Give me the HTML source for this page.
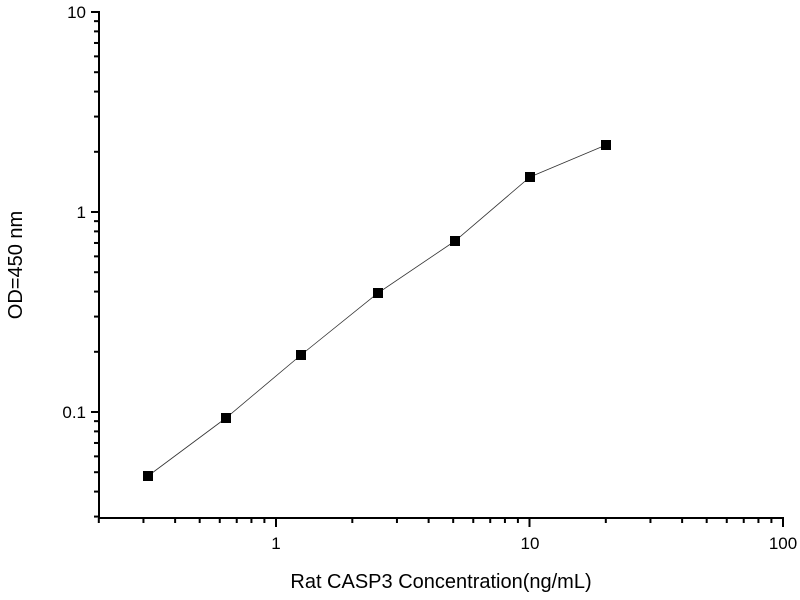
<!DOCTYPE html>
<html><head><meta charset="utf-8"><style>
html,body{margin:0;padding:0;background:#fff;}
svg{display:block;font-family:"Liberation Sans",Arial,sans-serif;}
</style></head><body>
<svg id="s" width="800" height="600" xmlns="http://www.w3.org/2000/svg">
<rect width="800" height="600" fill="#fff"/>
<g id="ax" stroke="#000" stroke-width="2" fill="none"></g>
<line x1="99" y1="11" x2="99" y2="519" stroke="#000" stroke-width="2"/>
<line x1="98" y1="518" x2="784" y2="518" stroke="#000" stroke-width="2"/>
<polyline points="148,476 226,418 301,355 378,293 455,241 530,177 606,145" fill="none" stroke="#333" stroke-width="0.8"/>
<g fill="#000">
<rect x="143" y="471" width="10" height="10"/>
<rect x="221" y="413" width="10" height="10"/>
<rect x="296" y="350" width="10" height="10"/>
<rect x="373" y="288" width="10" height="10"/>
<rect x="450" y="236" width="10" height="10"/>
<rect x="525" y="172" width="10" height="10"/>
<rect x="601" y="140" width="10" height="10"/>
</g>
<g font-size="17" fill="#000">
<text x="86" y="18" text-anchor="end">10</text>
<text x="86" y="218" text-anchor="end">1</text>
<text x="86" y="418" text-anchor="end">0.1</text>
<text x="276" y="549" text-anchor="middle">1</text>
<text x="530" y="549" text-anchor="middle">10</text>
<text x="783" y="549" text-anchor="middle">100</text>
</g>
<text x="441" y="588" font-size="20" text-anchor="middle">Rat CASP3 Concentration(ng/mL)</text>
<text transform="translate(22,265) rotate(-90)" font-size="20" text-anchor="middle">OD=450 nm</text>
</svg>
<script>
var g=document.getElementById('ax'),ns='http://www.w3.org/2000/svg';
function L(x1,y1,x2,y2){var l=document.createElementNS(ns,'line');l.setAttribute('x1',x1);l.setAttribute('y1',y1);l.setAttribute('x2',x2);l.setAttribute('y2',y2);g.appendChild(l);}
// y axis: 10 at 12, decade 200
for(var d=-2;d<=1;d++){for(var m=1;m<=9;m++){var v=Math.log10(m)+d;var y=12+(1-v)*200;if(y<11||y>518)continue;if(m==1)L(91,y,99,y);else L(94,y,99,y);}}
// x axis: 1 at 276, decade 253.5
for(var d=-1;d<=2;d++){for(var m=1;m<=9;m++){var v=Math.log10(m)+d;var x=276+v*253.5;if(x<98||x>785)continue;if(m==1)L(x,518,x,527);else L(x,518,x,523);}}
</script>
</body></html>
